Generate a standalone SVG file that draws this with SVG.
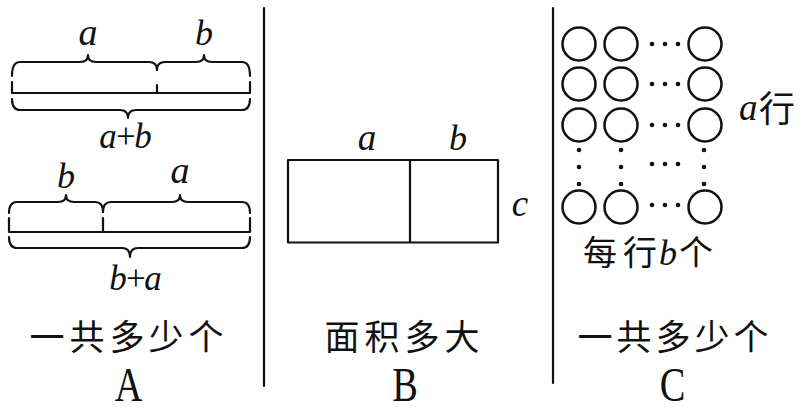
<svg xmlns="http://www.w3.org/2000/svg" width="804" height="407" viewBox="0 0 804 407">
<style>
.ln{fill:none;stroke:#111;stroke-width:2.2;stroke-linecap:round;stroke-linejoin:round}
.it{font-family:"Liberation Serif","Times New Roman",serif;font-style:italic;fill:#111}
.cjk{font-family:"Noto Sans CJK SC","Noto Sans",sans-serif;fill:#111}
.cap{font-family:"Liberation Serif","Times New Roman",serif;font-size:48px;fill:#111}
.dot{fill:#111}
.cir{fill:none;stroke:#111;stroke-width:2.5}
</style>
<rect width="804" height="407" fill="#fff"/>
<g id="separators">
<path class="ln" d="M264,8 V386 M553,8 V383"/>
</g>
<g id="panel-A">
<g id="bar-ab">
<path class="ln" d="M12,76 Q12,62 20,62 L80,62 Q88,62 88,55 Q88,62 96,62 L149,62 Q157,62 157,70"/>
<path class="ln" d="M157,70 Q157,62 165,62 L196,62 Q204,62 204,55 Q204,62 212,62 L242,62 Q250,62 250,76"/>
<path class="ln" d="M12,82 V93 H250 V82 M157,85 V93"/>
<path class="ln" d="M12,99 Q12,110 20,110 L120,110 Q128,110 128,118 Q128,110 136,110 L242,110 Q250,110 250,99"/>
<text class="it" x="88" y="45" font-size="38" text-anchor="middle">a</text>
<text class="it" x="204" y="45" font-size="36" text-anchor="middle">b</text>
<text class="it" x="124" y="148" font-size="35" letter-spacing="-3" text-anchor="middle">a+b</text>
</g>
<g id="bar-ba">
<path class="ln" d="M9,213 Q9,202 17,202 L58,202 Q66,202 66,195 Q66,202 74,202 L95,202 Q103,202 103,212"/>
<path class="ln" d="M103,212 Q103,202 111,202 L172,202 Q180,202 180,195 Q180,202 188,202 L242,202 Q250,202 250,213"/>
<path class="ln" d="M9,218 V232 H250 V218 M103,218 V232"/>
<path class="ln" d="M9,237 Q9,248 17,248 L122,248 Q130,248 130,257 Q130,248 138,248 L242,248 Q250,248 250,237"/>
<text class="it" x="66" y="188" font-size="36" text-anchor="middle">b</text>
<text class="it" x="180" y="183" font-size="38" text-anchor="middle">a</text>
<text class="it" x="134" y="290" font-size="35" letter-spacing="-3" text-anchor="middle">b+a</text>
</g>
<text class="cjk" font-size="35" text-anchor="middle" x="47 87 127 166 206" y="350">一共多少个</text>
<text class="cap" text-anchor="middle" transform="translate(128.5,401) scale(0.8,1)">A</text>
</g>
<g id="panel-B">
<path class="ln" d="M288,160 H498 V242.5 H288 Z M410,160 V242.5" stroke-width="2.5"/>
<text class="it" x="367" y="150" font-size="37" text-anchor="middle">a</text>
<text class="it" x="458" y="150" font-size="36" text-anchor="middle">b</text>
<text class="it" x="520" y="216" font-size="37" text-anchor="middle">c</text>
<text class="cjk" font-size="35" text-anchor="middle" x="342 382 422 462" y="350">面积多大</text>
<text class="cap" text-anchor="middle" transform="translate(405,401) scale(0.8,1)">B</text>
</g>
<g id="panel-C">
<g id="circles">
<circle class="cir" cx="579" cy="44" r="16.5"/><circle class="cir" cx="621" cy="44" r="16.5"/><circle class="cir" cx="705" cy="44" r="16.5"/>
<circle class="cir" cx="579" cy="84" r="16.5"/><circle class="cir" cx="621" cy="84" r="16.5"/><circle class="cir" cx="705" cy="84" r="16.5"/>
<circle class="cir" cx="579" cy="125" r="16.5"/><circle class="cir" cx="621" cy="125" r="16.5"/><circle class="cir" cx="705" cy="125" r="16.5"/>
<circle class="cir" cx="579" cy="207" r="16.5"/><circle class="cir" cx="621" cy="207" r="16.5"/><circle class="cir" cx="705" cy="207" r="16.5"/>
</g>
<g id="dots">
<circle class="dot" cx="652" cy="44" r="2.3"/><circle class="dot" cx="665" cy="44" r="2.3"/><circle class="dot" cx="678" cy="44" r="2.3"/>
<circle class="dot" cx="652" cy="84" r="2.3"/><circle class="dot" cx="665" cy="84" r="2.3"/><circle class="dot" cx="678" cy="84" r="2.3"/>
<circle class="dot" cx="652" cy="125" r="2.3"/><circle class="dot" cx="665" cy="125" r="2.3"/><circle class="dot" cx="678" cy="125" r="2.3"/>
<circle class="dot" cx="652" cy="205" r="2.3"/><circle class="dot" cx="665" cy="205" r="2.3"/><circle class="dot" cx="678" cy="205" r="2.3"/>
<circle class="dot" cx="652" cy="164" r="2.3"/><circle class="dot" cx="665" cy="164" r="2.3"/><circle class="dot" cx="678" cy="164" r="2.3"/>
<circle class="dot" cx="579" cy="150" r="2.3"/><circle class="dot" cx="579" cy="167" r="2.3"/><circle class="dot" cx="579" cy="184" r="2.3"/>
<circle class="dot" cx="621" cy="150" r="2.3"/><circle class="dot" cx="621" cy="167" r="2.3"/><circle class="dot" cx="621" cy="184" r="2.3"/>
<circle class="dot" cx="704" cy="150" r="2.3"/><circle class="dot" cx="704" cy="167" r="2.3"/><circle class="dot" cx="704" cy="184" r="2.3"/>
</g>
<text class="it" x="739" y="120" font-size="37">a</text>
<text class="cjk" x="759" y="122" font-size="36">行</text>
<text class="cjk" x="583" y="265" font-size="34">每</text>
<text class="cjk" x="623" y="265" font-size="34">行</text>
<text class="it" x="659" y="265" font-size="36">b</text>
<text class="cjk" x="679" y="265" font-size="34">个</text>
<text class="cjk" font-size="35" text-anchor="middle" x="595 634 673 712 751" y="350">一共多少个</text>
<text class="cap" text-anchor="middle" transform="translate(672.5,401) scale(0.8,1)">C</text>
</g>
</svg>
